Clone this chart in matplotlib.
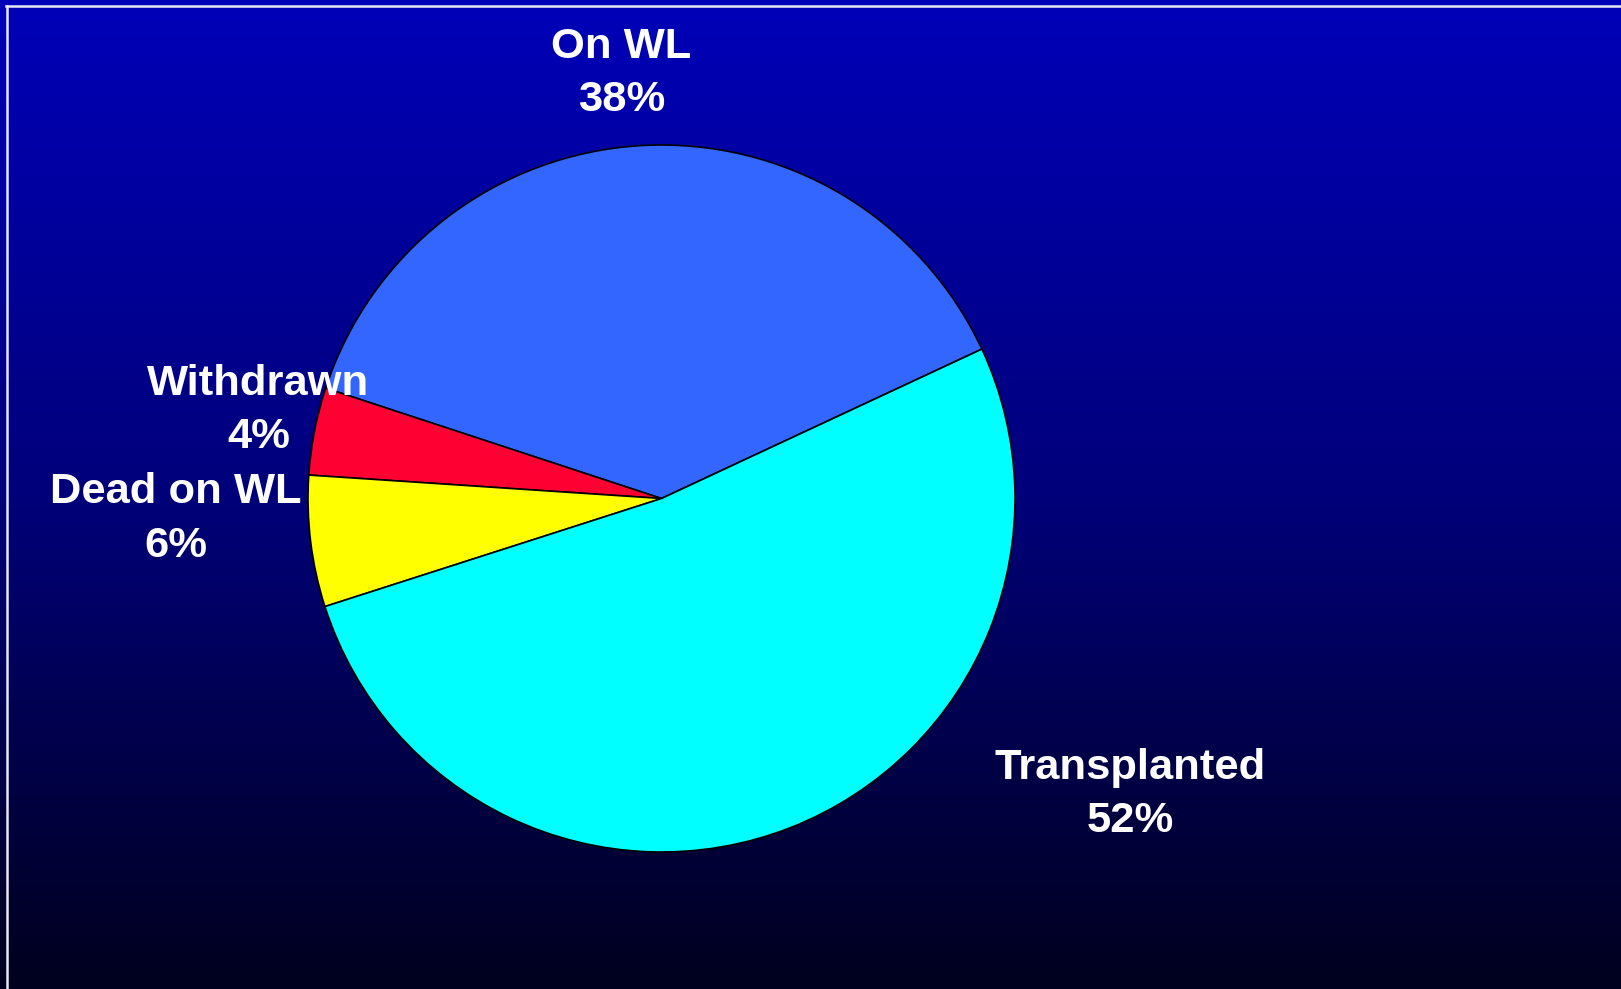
import numpy as np
import matplotlib
matplotlib.use("Agg")
import matplotlib.pyplot as plt
from matplotlib.colors import LinearSegmentedColormap
from matplotlib.lines import Line2D

# Waiting list outcome shares (%)
labels = ['On WL', 'Withdrawn', 'Dead on WL', 'Transplanted']
shares = [38, 4, 6, 52]
colors = ['#3366FF', '#FF0033', '#FFFF00', '#00FFFF']

# where each label sits, in units of pie radius from the centre
label_xy = [(-0.113, 1.202), (-1.140, 0.250), (-1.374, -0.058), (1.325, -0.838)]

W, H = 1621, 989
cx, cy, R = 661.5, 498.5, 353.5   # pie centre and radius in pixels

fig = plt.figure(figsize=(W / 100, H / 100), dpi=100)

# background gradient
bg = fig.add_axes([0, 0, 1, 1])
cmap = LinearSegmentedColormap.from_list('bg', ['#0000B8', '#00007A', '#00001E'])
bg.imshow(np.linspace(0, 1, 256).reshape(-1, 1), cmap=cmap, aspect='auto',
          extent=[0, 1, 0, 1])
bg.set_axis_off()

# thin white frame along the top and left
fig.add_artist(Line2D([6 / W, 1], [1 - 6 / H, 1 - 6 / H], color='#E8E8F0', lw=1.8))
fig.add_artist(Line2D([6.5 / W, 6.5 / W], [0, 1 - 6 / H], color='#E8E8F0', lw=1.8))

ax = fig.add_axes([0, 0, 1, 1])
ax.pie(shares, colors=colors, startangle=25, counterclock=True,
       wedgeprops=dict(edgecolor='black', linewidth=1.2))
ax.set_xlim(-cx / R, (W - cx) / R)
ax.set_ylim((cy - H) / R, cy / R)
ax.set_aspect('equal')
ax.set_axis_off()

for lab, val, (x, y) in zip(labels, shares, label_xy):
    ax.text(x, y, f'{lab}\n{val}%', ha='center', va='center', color='white',
            fontsize=31.3, fontweight='bold', family='Liberation Sans',
            linespacing=1.42)

fig.savefig('out.png', dpi=100)
